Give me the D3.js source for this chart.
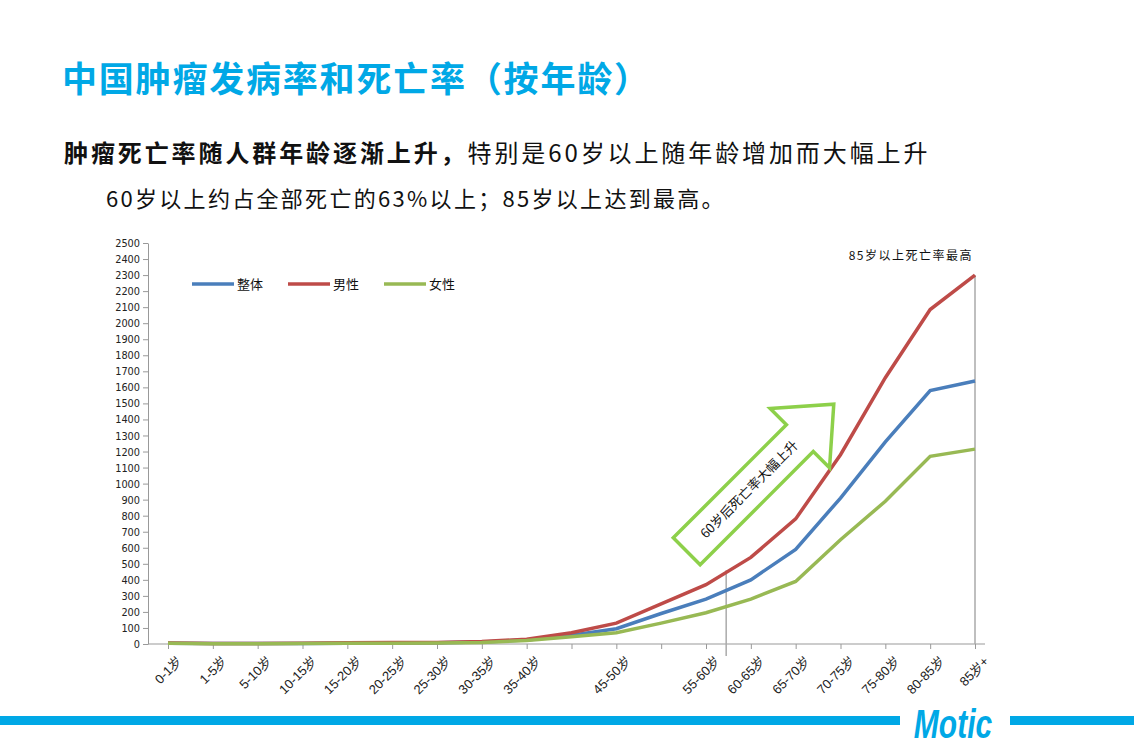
<!DOCTYPE html>
<html><head><meta charset="utf-8">
<script src="https://cdn.jsdelivr.net/npm/d3@7"></script>
<style>body{margin:0;background:#fff}</style>
</head><body>
<svg width="1134" height="756"></svg>
<script>
const svg = d3.select('svg');
const font = '"Noto Sans CJK SC", "Noto Sans", sans-serif';

svg.append('text').attr('x', 62).attr('y', 92).attr('font-family', font)
  .attr('font-size', 35).attr('font-weight', 'bold').attr('fill', '#00a8e6').attr('letter-spacing', 1.8)
  .text('中国肿瘤发病率和死亡率（按年龄）');

const sub = svg.append('text').attr('x', 64).attr('y', 162).attr('font-family', font)
  .attr('font-size', 24).attr('fill', '#111').attr('letter-spacing', 2.9);
sub.append('tspan').attr('font-weight', 'bold').text('肿瘤死亡率随人群年龄逐渐上升，');
sub.append('tspan').text('特别是60岁以上随年龄增加而大幅上升');

svg.append('text').attr('x', 106).attr('y', 207).attr('font-family', font)
  .attr('font-size', 22).attr('fill', '#111').attr('letter-spacing', 2.3)
  .text('60岁以上约占全部死亡的63%以上；85岁以上达到最高。');

const ages = ['0-1岁','1-5岁','5-10岁','10-15岁','15-20岁','20-25岁','25-30岁','30-35岁','35-40岁','40-45岁',
  '45-50岁','50-55岁','55-60岁','60-65岁','65-70岁','70-75岁','75-80岁','80-85岁','85岁+'];
const hidden = ['40-45岁','50-55岁'];
const series = [
  {name:'整体', color:'#4a7ebb', values:[5,3,3,3,5,6,8,12,25,55,95,190,280,400,590,910,1260,1580,1640]},
  {name:'男性', color:'#be4b48', values:[6,3,3,4,8,9,10,15,30,70,130,250,370,540,780,1180,1660,2085,2300]},
  {name:'女性', color:'#98b954', values:[4,2,2,3,4,4,6,10,22,45,70,130,195,280,390,650,890,1170,1215]}
];

const x = d3.scalePoint().domain(ages).range([168, 975]);
const y = d3.scaleLinear().domain([0, 2500]).range([644, 243]);
const step = x.step();

const g = svg.append('g').attr('font-family', font);

const yAxis = g.append('g').attr('transform', 'translate(148,0)')
  .call(d3.axisLeft(y).tickValues(d3.range(0, 2501, 100)).tickFormat(d3.format('d')).tickSize(5).tickSizeOuter(0));
yAxis.selectAll('text').attr('font-size', 11).attr('fill', '#222').attr('font-family', '"DejaVu Sans", sans-serif')
  .attr('textLength', d => String(d).length * 6.2).attr('lengthAdjust', 'spacingAndGlyphs');
yAxis.selectAll('line,path').attr('stroke', '#999');

const xAxis = g.append('g').attr('transform', 'translate(0,644)')
  .call(d3.axisBottom(x).tickSize(5).tickSizeOuter(0));
xAxis.select('.domain').attr('d', 'M148,0H985');
xAxis.selectAll('line,path').attr('stroke', '#999');
xAxis.selectAll('text').attr('font-size', 13).attr('fill', '#222')
  .attr('text-anchor', 'end').attr('transform', 'translate(2,6) rotate(-45)')
  .style('display', d => hidden.includes(d) ? 'none' : null);

// reference lines
g.append('line').attr('x1', x('85岁+')).attr('x2', x('85岁+'))
  .attr('y1', y(2300)).attr('y2', y(0)).attr('stroke', '#aaa').attr('stroke-width', 1.5);
const xm = x('55-60岁') + step * 0.45;
g.append('line').attr('x1', xm).attr('x2', xm)
  .attr('y1', y(460)).attr('y2', y(0) + 12).attr('stroke', '#aaa').attr('stroke-width', 1.5);

const line = d3.line().x((d, i) => x(ages[i])).y(d => y(d));
series.forEach(s => {
  g.append('path').attr('d', line(s.values)).attr('fill', 'none')
    .attr('stroke', s.color).attr('stroke-width', 3.5);
});

// legend
const leg = g.append('g').attr('transform', 'translate(192,284)');
series.forEach((s, i) => {
  const lg = leg.append('g').attr('transform', `translate(${i * 96},0)`);
  lg.append('line').attr('x1', 0).attr('x2', 42).attr('stroke', s.color).attr('stroke-width', 3.5);
  lg.append('text').attr('x', 45).attr('y', 5).attr('font-size', 13).attr('fill', '#111').text(s.name);
});

g.append('text').attr('x', 973).attr('y', 260).attr('text-anchor', 'end')
  .attr('font-size', 12).attr('fill', '#111').attr('letter-spacing', 1.5).text('85岁以上死亡率最高');

// arrow annotation
const arrow = g.append('g').attr('transform', 'translate(756,482) rotate(-45)');
arrow.append('path')
  .attr('d', 'M-98,-19 L62,-19 L62,-42 L110,0 L62,42 L62,19 L-98,19 Z')
  .attr('fill', 'none').attr('stroke', '#8dd04a').attr('stroke-width', 3.5);
arrow.append('text').attr('x', -10).attr('y', 5).attr('text-anchor', 'middle')
  .attr('font-size', 13).attr('fill', '#111').text('60岁后死亡率大幅上升');

// footer
svg.append('rect').attr('x', 0).attr('y', 716).attr('width', 900).attr('height', 9).attr('fill', '#00a8e6');
svg.append('rect').attr('x', 1010).attr('y', 716).attr('width', 124).attr('height', 9).attr('fill', '#00a8e6');
svg.append('text').attr('x', 953).attr('y', 738).attr('text-anchor', 'middle')
  .attr('font-family', '"Liberation Sans", sans-serif').attr('font-size', 40)
  .attr('font-weight', 'bold').attr('font-style', 'italic').attr('fill', '#00a8e6')
  .attr('transform', 'translate(953,738) scale(0.75,1) translate(-953,-738)').text('Motic');
</script>
</body></html>
